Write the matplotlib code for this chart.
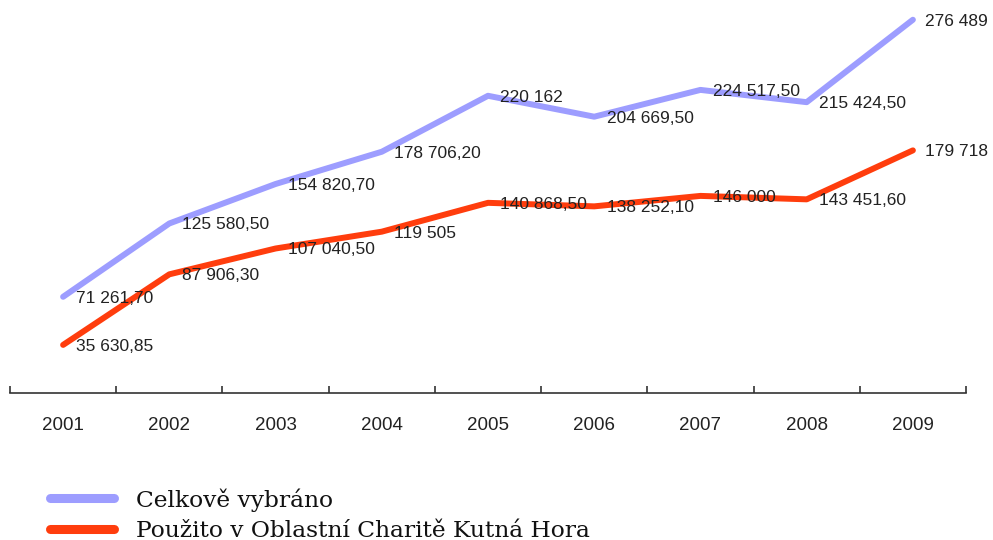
import matplotlib.pyplot as plt
import numpy as np

years = ['2001', '2002', '2003', '2004', '2005', '2006', '2007', '2008', '2009']
celkem = [71261.70, 125580.50, 154820.70, 178706.20, 220162, 204669.50, 224517.50, 215424.50, 276489]
pouzito = [35630.85, 87906.30, 107040.50, 119505, 140868.50, 138252.10, 146000, 143451.60, 179718]
series_names = ['Celkově vybráno', 'Použito v Oblastní Charitě Kutná Hora']


# ceske formatovani cisel: mezera pro tisice, carka pro desetiny
def fmt(v):
    if float(v).is_integer():
        s = '{:,.0f}'.format(v)
    else:
        s = '{:,.2f}'.format(v)
    return s.replace(',', ' ').replace('.', ',')


fig = plt.figure(figsize=(9.93, 5.4), dpi=100)
ax = fig.add_axes([10 / 993, 147 / 540, 956 / 993, 391.5 / 540])

x = np.arange(len(years))
l1, = ax.plot(x, celkem, color='#9d9dff', lw=4.3, solid_capstyle='round',
              solid_joinstyle='round', clip_on=False, zorder=2)
l2, = ax.plot(x, pouzito, color='#ff3d0d', lw=4.3, solid_capstyle='round',
              solid_joinstyle='round', clip_on=False, zorder=2)

for vals in (celkem, pouzito):
    for xi, v in zip(x, vals):
        ax.annotate(fmt(v), (xi, v), xytext=(9, -1), textcoords='offset points',
                    ha='left', va='center', fontsize=12.5, color='#222222',
                    family='Liberation Sans', zorder=3, annotation_clip=False)

ax.set_xlim(-0.5, len(years) - 0.5)
ax.set_ylim(0, 290000)

for s in ['top', 'right', 'left']:
    ax.spines[s].set_visible(False)
ax.spines['bottom'].set_color('#333333')
ax.spines['bottom'].set_linewidth(1.2)
ax.set_yticks([])

ax.set_xticks(np.arange(-0.5, len(years)))
ax.set_xticklabels([])
ax.tick_params(axis='x', which='major', direction='in', length=5, width=1.2, color='#333333')
ax.set_xticks(x, minor=True)
ax.set_xticklabels(years, minor=True, fontsize=13.5, family='Liberation Sans', color='#222222')
ax.tick_params(axis='x', which='minor', length=0, pad=17)

leg = ax.legend([l1, l2], series_names, loc='upper left',
                bbox_to_anchor=(50 / 993, 1 - 488 / 540), bbox_transform=fig.transFigure,
                frameon=False, prop={'family': 'DejaVu Serif', 'size': 16.8},
                handlelength=2.75, handletextpad=0.95, labelspacing=0.35,
                borderaxespad=0, borderpad=0)
for h in leg.legend_handles:
    h.set_linewidth(6.5)
for t in leg.get_texts():
    t.set_color('#111111')

fig.savefig('out.png', dpi=100)
